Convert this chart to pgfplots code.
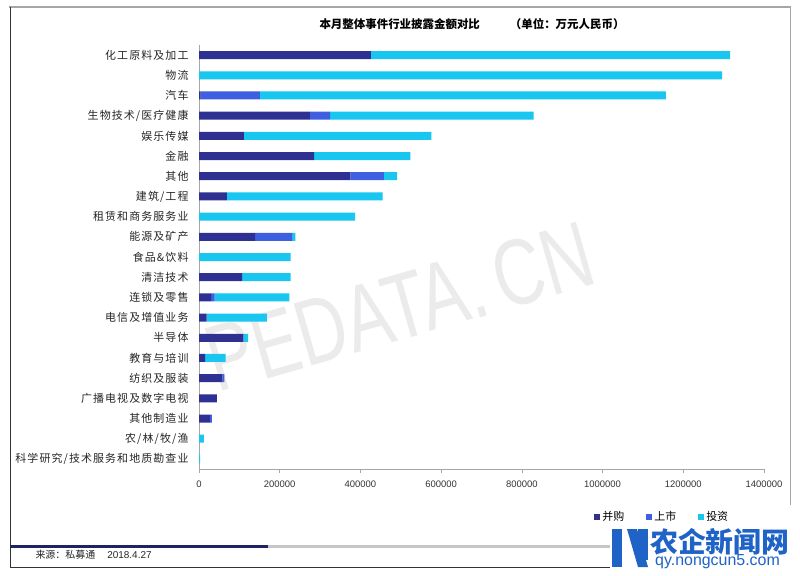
\documentclass[border=0pt]{standalone}
\usepackage{fontspec}
\setmainfont{Liberation Sans}
\newfontfamily\cjk{Noto Sans CJK SC}
\newfontfamily\cjkwide[LetterSpace=10]{Noto Sans CJK SC}
\usepackage{pgfplots}
\pgfplotsset{compat=1.18}

\definecolor{binggou}{HTML}{2E3192}
\definecolor{shangshi}{HTML}{3D5FE0}
\definecolor{touzi}{HTML}{18C6F0}
\definecolor{logoblue}{HTML}{1F63C6}

\begin{document}
\begin{tikzpicture}[x=1bp,y=1bp]
\useasboundingbox (0,0) rectangle (800,-576);
\fill[white] (0,0) rectangle (800,-576);
% frame
\draw[gray!70, line width=2.5bp] (9,-7) -- (791,-7);
\draw[black!80, line width=0.8bp] (10,-7) -- (10,-567) -- (610,-567);
\draw[gray!70, line width=0.8bp] (790,-7) -- (790,-505);
% watermark
\node[rotate=16, text=gray!16, font=\fontsize{94}{94}\selectfont, xscale=0.74] at (400,-307) {PEDATA.\,CN};
% title
\node[font=\cjk\bfseries\fontsize{11.5}{13}\selectfont] at (472,-24) {本月整体事件行业披露金额对比\hspace{30bp}（单位：万元人民币）};

\begin{axis}[
  at={(199bp,-469bp)}, anchor=south west,
  scale only axis, width=565bp, height=424bp,
  xbar stacked, bar width=8bp,
  xmin=0, xmax=1400000, ymin=-0.5, ymax=20.5,
  axis x line*=bottom, axis y line*=left,
  axis line style={gray!70, line width=0.7bp},
  xtick={0,200000,...,1400000},
  scaled x ticks=false,
  /pgf/number format/.cd, fixed, 1000 sep={}, assume math mode=true,
  /pgfplots/.cd,
  tick align=outside,
  major tick length=4bp, minor tick length=4bp,
  xtick style={gray!70, line width=0.6bp},
  xticklabel style={font=\fontsize{9.5}{10}\selectfont, text=black!80, yshift=-4bp},
  ytick={0,...,20},
  ytick style={draw=none},
  minor ytick={-0.5,0.5,...,20.5},
  minor y tick style={gray!70, line width=0.6bp},
  yticklabel style={font=\cjkwide\fontsize{11}{12}\selectfont, text=black!85, xshift=-3bp},
  yticklabels={科学研究/技术服务和地质勘查业, 农/林/牧/渔, 其他制造业, 广播电视及数字电视, 纺织及服装, 教育与培训, 半导体, 电信及增值业务, 连锁及零售, 清洁技术, 食品\&饮料, 能源及矿产, 租赁和商务服务业, 建筑/工程, 其他, 金融, 娱乐传媒, 生物技术/医疗健康, 汽车, 物流, 化工原料及加工},
  legend columns=3,
  legend style={at={(0.820,-0.113)}, anchor=center, draw=none, fill=none,
    font=\cjk\fontsize{11}{12}\selectfont,
    /tikz/every even column/.append style={column sep=20bp}},
  legend image code/.code={\fill[#1,draw=none] (2bp,-3bp) rectangle (8bp,3bp);},
]
\addplot[fill=binggou, draw=none] coordinates {
 (0,0) (0,1) (27000,2) (44000,3) (58000,4) (15000,5) (110000,6) (19000,7)
 (30000,8) (107000,9) (0,10) (139000,11) (0,12) (69000,13) (375000,14)
 (285000,15) (111000,16) (275000,17) (4000,18) (0,19) (426000,20)};
\addplot[fill=shangshi, draw=none] coordinates {
 (0,0) (0,1) (5000,2) (0,3) (5000,4) (0,5) (0,6) (0,7)
 (9000,8) (0,9) (0,10) (92000,11) (0,12) (0,13) (83000,14)
 (0,15) (0,16) (50000,17) (147000,18) (0,19) (0,20)};
\addplot[fill=touzi, draw=none] coordinates {
 (2500,0) (12000,1) (0,2) (0,3) (0,4) (51000,5) (12000,6) (149000,7)
 (185000,8) (120000,9) (227000,10) (8000,11) (387000,12) (386000,13) (33000,14)
 (239000,15) (465000,16) (504000,17) (1006000,18) (1296000,19) (890000,20)};
\legend{并购, 上市, 投资}
\end{axis}

% footer
\draw[binggou!70!black, line width=3bp] (10,-546) -- (268,-546);
\draw[gray!45, line width=3bp] (268,-546) -- (610,-546);
\node[anchor=west, font=\cjk\fontsize{10}{12}\selectfont, text=black!85] at (32,-555) {来源：私募通\hspace{12bp}\fontspec{Liberation Sans}2018.4.27};
% site logo
\fill[logoblue] (612,-529) rectangle (622,-567);
\fill[logoblue] (627,-529) -- (637,-529) -- (648,-567) -- (638,-567) -- cycle;
\fill[logoblue] (638,-529) rectangle (648,-560);
\node[anchor=west, inner sep=0pt, font=\cjk\bfseries\fontsize{28}{28}\selectfont, text=logoblue] at (650,-542) {农企新闻网};
\node[anchor=west, inner sep=0pt, font=\fontsize{16}{16}\selectfont, text=logoblue] at (655,-562) {qy.nongcun5.com};
\end{tikzpicture}
\end{document}
